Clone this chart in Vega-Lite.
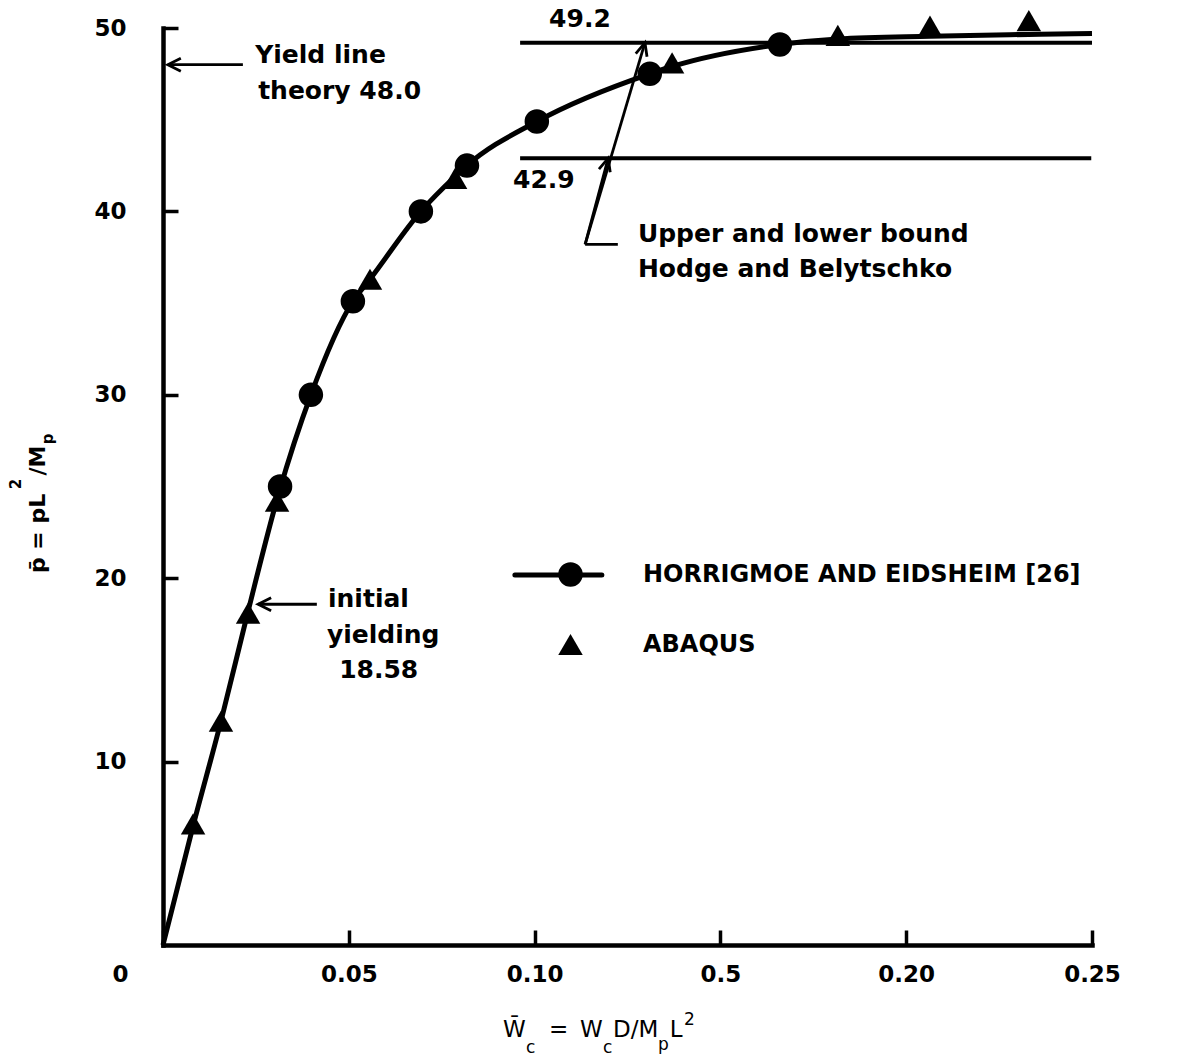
{
  "$schema": "https://vega.github.io/schema/vega-lite/v6.json",
  "width": 929,
  "height": 917,
  "autosize": {"type": "none"},
  "padding": {"left": 163, "top": 28, "right": 86, "bottom": 112},
  "background": "white",
  "config": {"view": {"stroke": null}, "font": "DejaVu Sans"},
  "datasets": {
    "curve": [
      {"w": 0, "p": 0},
      {"w": 0.0081, "p": 6.5},
      {"w": 0.0156, "p": 12.2},
      {"w": 0.0229, "p": 18.2},
      {"w": 0.0311, "p": 24.6},
      {"w": 0.0398, "p": 30.0},
      {"w": 0.0511, "p": 35.1},
      {"w": 0.0557, "p": 36.3},
      {"w": 0.0694, "p": 40.0},
      {"w": 0.0786, "p": 41.9},
      {"w": 0.0818, "p": 42.5},
      {"w": 0.1006, "p": 44.9},
      {"w": 0.131, "p": 47.5},
      {"w": 0.137, "p": 47.9},
      {"w": 0.166, "p": 49.1},
      {"w": 0.1816, "p": 49.4},
      {"w": 0.2064, "p": 49.55},
      {"w": 0.233, "p": 49.65},
      {"w": 0.25, "p": 49.7}
    ],
    "results": [
      {"series": "HORRIGMOE AND EIDSHEIM [26]", "w": 0.0315, "p": 25.0},
      {"series": "HORRIGMOE AND EIDSHEIM [26]", "w": 0.0398, "p": 30.0},
      {"series": "HORRIGMOE AND EIDSHEIM [26]", "w": 0.0511, "p": 35.1},
      {"series": "HORRIGMOE AND EIDSHEIM [26]", "w": 0.0694, "p": 40.0},
      {"series": "HORRIGMOE AND EIDSHEIM [26]", "w": 0.0818, "p": 42.5},
      {"series": "HORRIGMOE AND EIDSHEIM [26]", "w": 0.1006, "p": 44.9},
      {"series": "HORRIGMOE AND EIDSHEIM [26]", "w": 0.131, "p": 47.5},
      {"series": "HORRIGMOE AND EIDSHEIM [26]", "w": 0.166, "p": 49.1},
      {"series": "ABAQUS", "w": 0.0081, "p": 6.6},
      {"series": "ABAQUS", "w": 0.0156, "p": 12.2},
      {"series": "ABAQUS", "w": 0.0229, "p": 18.1},
      {"series": "ABAQUS", "w": 0.0307, "p": 24.2},
      {"series": "ABAQUS", "w": 0.0557, "p": 36.3},
      {"series": "ABAQUS", "w": 0.0786, "p": 41.8},
      {"series": "ABAQUS", "w": 0.137, "p": 48.1},
      {"series": "ABAQUS", "w": 0.1816, "p": 49.6},
      {"series": "ABAQUS", "w": 0.2064, "p": 50.1},
      {"series": "ABAQUS", "w": 0.233, "p": 50.4}
    ],
    "bounds": [
      {"bound": "upper", "w": 0.0961, "w2": 0.25, "p": 49.2},
      {"bound": "lower", "w": 0.0961, "w2": 0.2498, "p": 42.9}
    ],
    "keyline": [
      {"w": 0.0947, "w2": 0.1181, "p": 20.17}
    ],
    "arrows": [
      {"w": 0.0013, "p": 48.0, "w2": 0.0215, "p2": 48.0, "head": "left"},
      {"w": 0.0256, "p": 18.58, "w2": 0.0414, "p2": 18.58, "head": "left"},
      {"w": 0.1198, "p": 42.9, "w2": 0.1136, "p2": 38.2, "head": "up"},
      {"w": 0.1297, "p": 49.2, "w2": 0.1136, "p2": 38.2, "head": "up"},
      {"w": 0.1136, "p": 38.2, "w2": 0.1224, "p2": 38.2, "head": "none"}
    ],
    "notes": [
      {"w": 0.0248, "p": 48.09, "text": "Yield line"},
      {"w": 0.0256, "p": 46.13, "text": "theory 48.0"},
      {"w": 0.1039, "p": 50.05, "text": "49.2"},
      {"w": 0.0942, "p": 41.28, "text": "42.9"},
      {"w": 0.1278, "p": 38.33, "text": "Upper and lower bound"},
      {"w": 0.1278, "p": 36.42, "text": "Hodge and Belytschko"},
      {"w": 0.0444, "p": 18.43, "text": "initial"},
      {"w": 0.0441, "p": 16.47, "text": "yielding"},
      {"w": 0.0474, "p": 14.56, "text": "18.58"}
    ],
    "xtitle": [
      {"w": 0.0915, "p": -5.02, "t": "W̄", "role": "base"},
      {"w": 0.0977, "p": -5.89, "t": "c", "role": "script"},
      {"w": 0.1039, "p": -5.02, "t": "=", "role": "base"},
      {"w": 0.1122, "p": -5.02, "t": "W", "role": "base"},
      {"w": 0.1184, "p": -5.89, "t": "c", "role": "script"},
      {"w": 0.1211, "p": -5.02, "t": "D/M", "role": "base"},
      {"w": 0.1332, "p": -5.73, "t": "p", "role": "script"},
      {"w": 0.1364, "p": -5.02, "t": "L", "role": "base"},
      {"w": 0.1402, "p": -4.36, "t": "2", "role": "script"}
    ],
    "ytitle": [
      {"w": -0.0318, "p": 20.28, "t": "p̄ = pL", "role": "base"},
      {"w": -0.0383, "p": 24.85, "t": "2", "role": "script"},
      {"w": -0.0318, "p": 25.6, "t": "/M", "role": "base"},
      {"w": -0.0296, "p": 27.3, "t": "p", "role": "script"}
    ]
  },
  "encoding": {
    "x": {
      "field": "w",
      "type": "quantitative",
      "scale": {"domain": [0, 0.25], "nice": false, "zero": false},
      "axis": {
        "title": null,
        "values": [0, 0.05, 0.1, 0.15, 0.2, 0.25],
        "grid": false,
        "domainColor": "black",
        "domainWidth": 4.5,
        "domainCap": "square",
        "tickColor": "black",
        "tickWidth": 3.5,
        "tickSize": -15,
        "labelFont": "DejaVu Sans",
        "labelFontSize": 23,
        "labelFontWeight": "bold",
        "labelColor": "black",
        "labelPadding": 33,
        "labelFlush": false,
        "labelOverlap": false,
        "labelOffset": {"condition": {"test": "datum.value === 0", "value": -43}, "value": 0},
        "labelExpr": "datum.value === 0 ? '0' : (abs(datum.value - 0.15) < 0.001 ? '0.5' : format(datum.value, '.2f'))"
      }
    },
    "y": {
      "field": "p",
      "type": "quantitative",
      "scale": {"domain": [0, 50], "nice": false, "zero": false},
      "axis": {
        "title": null,
        "values": [10, 20, 30, 40, 50],
        "grid": false,
        "domainColor": "black",
        "domainWidth": 4.5,
        "domainCap": "square",
        "tickColor": "black",
        "tickWidth": 3.5,
        "tickSize": -15,
        "labelFont": "DejaVu Sans",
        "labelFontSize": 23,
        "labelFontWeight": "bold",
        "labelColor": "black",
        "labelPadding": 52,
        "labelFlush": false,
        "labelOverlap": false
      }
    }
  },
  "layer": [
    {
      "data": {"name": "bounds"},
      "mark": {"type": "rule", "stroke": "black", "strokeWidth": 4},
      "encoding": {"x2": {"field": "w2"}}
    },
    {
      "data": {"name": "keyline"},
      "mark": {"type": "rule", "stroke": "black", "strokeWidth": 5, "strokeCap": "round"},
      "encoding": {"x2": {"field": "w2"}}
    },
    {
      "data": {"name": "arrows"},
      "mark": {"type": "rule", "stroke": "black", "strokeWidth": 2.8},
      "encoding": {"x2": {"field": "w2"}, "y2": {"field": "p2"}}
    },
    {
      "data": {"name": "arrows"},
      "transform": [{"filter": "datum.head === 'left'"}],
      "mark": {"type": "point", "shape": "M2,-1L0,0L2,1", "filled": false, "stroke": "black", "strokeWidth": 2.8, "size": 169, "opacity": 1}
    },
    {
      "data": {"name": "arrows"},
      "transform": [{"filter": "datum.head === 'up'"}],
      "mark": {"type": "point", "shape": "M-0.9,2L0,0L0.9,2", "angle": 16, "filled": false, "stroke": "black", "strokeWidth": 2.8, "size": 169, "opacity": 1}
    },
    {
      "data": {"name": "curve"},
      "mark": {"type": "line", "stroke": "black", "strokeWidth": 5, "interpolate": "monotone"}
    },
    {
      "data": {"name": "results"},
      "mark": {"type": "point", "filled": true, "color": "black", "opacity": 1, "strokeWidth": 0, "size": 600},
      "encoding": {
        "shape": {
          "field": "series",
          "type": "nominal",
          "scale": {"domain": ["HORRIGMOE AND EIDSHEIM [26]", "ABAQUS"], "range": ["circle", "triangle-up"]},
          "legend": {
            "orient": "none",
            "legendX": 395,
            "legendY": 534,
            "title": null,
            "padding": 0,
            "symbolSize": 600,
            "symbolFillColor": "black",
            "symbolStrokeColor": "black",
            "symbolStrokeWidth": 0,
            "symbolOpacity": 1,
            "labelFont": "DejaVu Sans",
            "labelFontSize": 24,
            "labelFontWeight": "bold",
            "labelColor": "black",
            "labelOffset": 60,
            "labelLimit": 700,
            "rowPadding": 45
          }
        }
      }
    },
    {
      "data": {"name": "notes"},
      "mark": {"type": "text", "align": "left", "baseline": "alphabetic", "font": "DejaVu Sans", "fontSize": 25, "fontWeight": "bold", "color": "black"},
      "encoding": {"text": {"field": "text"}}
    },
    {
      "data": {"name": "xtitle"},
      "transform": [{"filter": "datum.role === 'base'"}],
      "mark": {"type": "text", "align": "left", "baseline": "alphabetic", "font": "DejaVu Sans", "fontSize": 23, "color": "black"},
      "encoding": {"text": {"field": "t"}}
    },
    {
      "data": {"name": "xtitle"},
      "transform": [{"filter": "datum.role === 'script'"}],
      "mark": {"type": "text", "align": "left", "baseline": "alphabetic", "font": "DejaVu Sans", "fontSize": 17, "color": "black"},
      "encoding": {"text": {"field": "t"}}
    },
    {
      "data": {"name": "ytitle"},
      "transform": [{"filter": "datum.role === 'base'"}],
      "mark": {"type": "text", "angle": 270, "align": "left", "baseline": "alphabetic", "font": "DejaVu Sans", "fontSize": 22, "fontWeight": "bold", "color": "black"},
      "encoding": {"text": {"field": "t"}}
    },
    {
      "data": {"name": "ytitle"},
      "transform": [{"filter": "datum.role === 'script'"}],
      "mark": {"type": "text", "angle": 270, "align": "left", "baseline": "alphabetic", "font": "DejaVu Sans", "fontSize": 15, "fontWeight": "bold", "color": "black"},
      "encoding": {"text": {"field": "t"}}
    }
  ]
}
